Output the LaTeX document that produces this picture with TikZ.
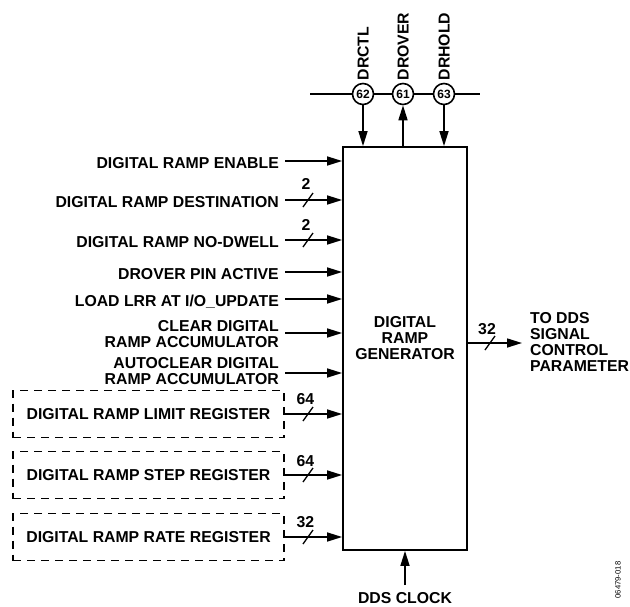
\documentclass[tikz,border=0pt]{standalone}
\usepackage{fontspec}
\setmainfont{Liberation Sans}
\usetikzlibrary{arrows.meta}
\begin{document}
\begin{tikzpicture}[x=1pt,y=-1pt,
  lbl/.style={font=\bfseries\fontsize{15.8}{16}\selectfont, inner sep=0pt},
  one/.style={lbl, text height=11.3pt, text depth=0pt},
  wire/.style={line width=1.6pt},
  arr/.style={line width=1.6pt, -{Triangle[length=15pt,width=9pt]}},
  slashmark/.style={line width=1.3pt},
  regbox/.style={draw, line width=1.5pt, dash pattern=on 8pt off 6pt, minimum width=271pt, minimum height=47pt, inner sep=0pt, font=\bfseries\fontsize{15.8}{16}\selectfont},
  pin/.style={draw, circle, line width=1.6pt, fill=white, minimum size=21pt, inner sep=0pt, font=\bfseries\fontsize{12}{12}\selectfont}
]
\useasboundingbox (0,0) rectangle (630,606);

% main block
\node[draw, line width=1.8pt, minimum width=124pt, minimum height=403pt, inner sep=0pt] (drg) at (405,348.5) {};
\node[lbl, align=center] (drgtxt) at (405,338.5) {DIGITAL\\RAMP\\GENERATOR};

% top bus with pins
\coordinate (busL) at (310,94);
\coordinate (busR) at (480,94);
\draw[wire] (busL) -- (busR);
\node[pin] (p62) at (363,94) {62};
\node[pin] (p61) at (403,94) {61};
\node[pin] (p63) at (444,94) {63};
\node[one, rotate=90, anchor=west] (ldrctl) at (363,80.5) {DRCTL};
\node[one, rotate=90, anchor=west] (ldrover) at (403,80.5) {DROVER};
\node[one, rotate=90, anchor=west] (ldrhold) at (444,80.5) {DRHOLD};
\draw[arr] (p62.south) -- (p62.south |- drg.north);
\draw[arr] (p61.south |- drg.north) -- (p61.south);
\draw[arr] (p63.south) -- (p63.south |- drg.north);

% left inputs
\node[one, anchor=east] (l1) at (279,162.5) {DIGITAL RAMP ENABLE};
\node[one, anchor=east] (l2) at (279,201.5) {DIGITAL RAMP DESTINATION};
\node[one, anchor=east] (l3) at (279,242) {DIGITAL RAMP NO-DWELL};
\node[one, anchor=east] (l4) at (279,273.5) {DROVER PIN ACTIVE};
\node[one, anchor=east] (l5) at (279,300.5) {LOAD LRR AT I/O\_UPDATE};
\node[lbl, anchor=east, align=right] (l6) at (279,334.3) {CLEAR DIGITAL\\RAMP ACCUMULATOR};
\node[lbl, anchor=east, align=right] (l7) at (279,371.3) {AUTOCLEAR DIGITAL\\RAMP ACCUMULATOR};

\coordinate (s1) at (285,161);
\coordinate (s2) at (285,200);
\coordinate (s3) at (285,240);
\coordinate (s4) at (285,272);
\coordinate (s5) at (285,299);
\coordinate (s6) at (285,333);
\coordinate (s7) at (285,373);
\foreach \s in {s1,s2,s3,s4,s5,s6,s7}{\draw[arr] (\s) -- (\s -| drg.west);}

% registers
\node[regbox] (lim) at (148.5,414) {DIGITAL RAMP LIMIT REGISTER};
\node[regbox] (stp) at (148.5,475) {DIGITAL RAMP STEP REGISTER};
\node[regbox] (rat) at (148.5,537) {DIGITAL RAMP RATE REGISTER};
\draw[arr] (lim.east) -- (lim.east -| drg.west);
\draw[arr] (stp.east) -- (stp.east -| drg.west);
\draw[arr] (rat.east) -- (rat.east -| drg.west);

% bus width marks
\draw[slashmark] (308,200) +(-5,7) -- +(5,-7);
\draw[slashmark] (308,240) +(-5,7) -- +(5,-7);
\draw[slashmark] (308,414) +(-5,7) -- +(5,-7);
\draw[slashmark] (308,475) +(-5,7) -- +(5,-7);
\draw[slashmark] (308,537) +(-5,7) -- +(5,-7);
\node[one] (w2) at (306,183.5) {2};
\node[one] (w3) at (306,225) {2};
\node[one] (w4) at (305.5,399) {64};
\node[one] (w5) at (305.5,461) {64};
\node[one] (w6) at (305.5,522) {32};

% output
\coordinate (otip) at (522,343);
\draw[arr] (drg.east |- otip) -- (otip);
\draw[slashmark] (490,343) +(-5,7) -- +(5,-7);
\node[one] (wo) at (487,329) {32};
\node[lbl, anchor=west, align=left] (otxt) at (530,342) {TO DDS\\SIGNAL\\CONTROL\\PARAMETER};

% clock
\node[one] (clk) at (405,598) {DDS CLOCK};
\draw[arr] ([yshift=7pt]clk.north) -- (drg.south);

% figure code
\node[font=\fontsize{7.7}{8}\selectfont, inner sep=0pt, rotate=90] (code) at (618,580) {06479-018};
\end{tikzpicture}
\end{document}
